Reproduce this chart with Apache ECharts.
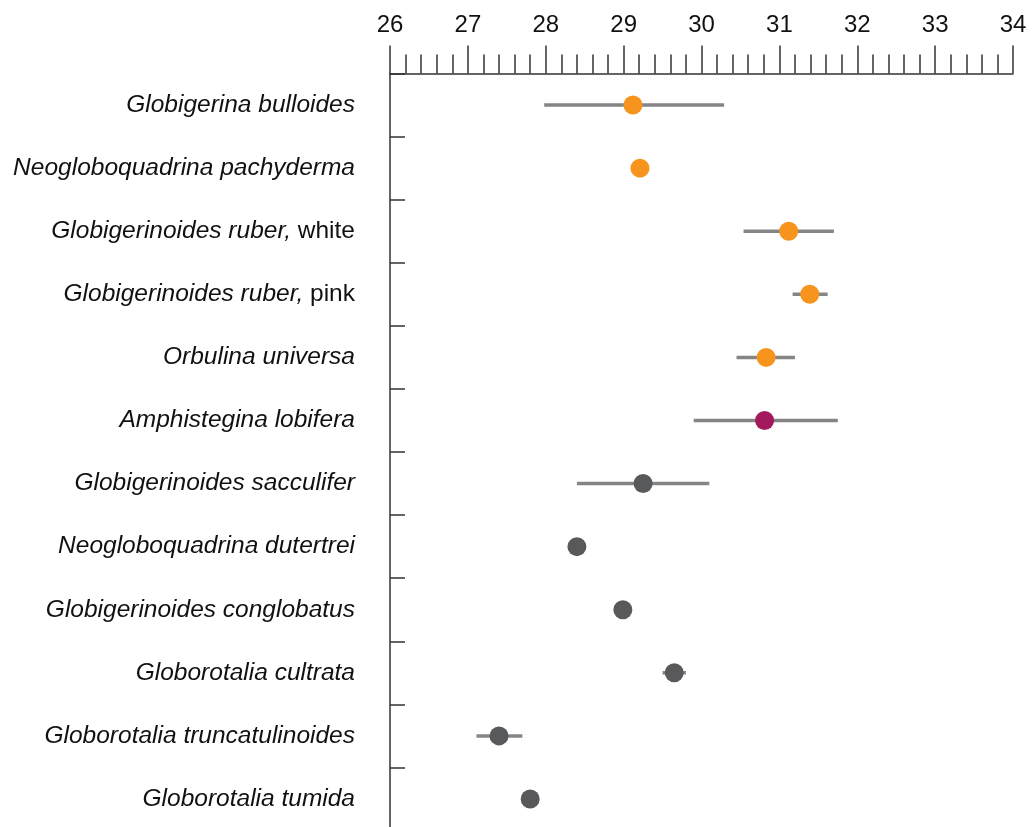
<!DOCTYPE html>
<html>
<head>
<meta charset="utf-8">
<script src="https://cdn.jsdelivr.net/npm/echarts@6/dist/echarts.min.js"></script>
<style>
  html, body { margin: 0; padding: 0; background: #fff; overflow: hidden; }
  /* a bit taller than the window: the last band runs past the bottom edge */
  #chart { width: 1032px; height: 840px; }
</style>
</head>
<body>
<div id="chart"></div>
<script>
// species names (italic part) and plain-text qualifier
const species = [
  "Globigerina bulloides",
  "Neogloboquadrina pachyderma",
  "Globigerinoides ruber,",
  "Globigerinoides ruber,",
  "Orbulina universa",
  "Amphistegina lobifera",
  "Globigerinoides sacculifer",
  "Neogloboquadrina dutertrei",
  "Globigerinoides conglobatus",
  "Globorotalia cultrata",
  "Globorotalia truncatulinoides",
  "Globorotalia tumida"
];
const qualifiers = ["", "", "white", "pink", "", "", "", "", "", "", "", ""];

// mean values and error range
const means = [29.12, 29.21, 31.12, 31.39, 30.83, 30.81, 29.25, 28.40, 28.99, 29.65, 27.40, 27.80];
const lows  = [27.98, null, 30.54, 31.17, 30.45, 29.90, 28.40, null, null, 29.50, 27.11, null];
const highs = [30.29, null, 31.70, 31.62, 31.20, 31.75, 30.10, null, null, 29.80, 27.70, null];
const groups = ["planktic", "planktic", "planktic", "planktic", "planktic", "benthic",
                "other", "other", "other", "other", "other", "other"];

const xTicks = [26, 27, 28, 29, 30, 31, 32, 33, 34];

const groupColors = { planktic: "#F7941D", benthic: "#A3195B", other: "#58595B" };
const font = "'Liberation Sans', Arial, sans-serif";

const categories = species.map((s, i) => s + "|" + qualifiers[i]);

const chart = echarts.init(document.getElementById("chart"));

chart.setOption({
  animation: false,
  grid: { left: 390, right: 19, top: 73.5, height: 757 },
  xAxis: {
    type: "value",
    position: "top",
    min: xTicks[0],
    max: xTicks[xTicks.length - 1],
    interval: 1,
    axisLine: { show: true, lineStyle: { color: "#333", width: 1.5 } },
    axisTick: { show: true, inside: false, length: 28, lineStyle: { color: "#333", width: 1.5 } },
    minorTick: { show: true, splitNumber: 5, length: 19, lineStyle: { color: "#333", width: 1.5 } },
    axisLabel: { margin: 36, fontSize: 24, color: "#111", fontFamily: font },
    splitLine: { show: false }
  },
  yAxis: {
    type: "category",
    inverse: true,
    data: categories,
    boundaryGap: true,
    axisLine: { show: true, lineStyle: { color: "#333", width: 1.5 } },
    axisTick: { show: true, inside: true, length: 15, lineStyle: { color: "#333", width: 1.5 } },
    axisLabel: {
      margin: 35,
      formatter: (v) => {
        const [name, q] = v.split("|");
        return "{i|" + name + "}" + (q ? "{n| " + q + "}" : "");
      },
      rich: {
        i: { fontSize: 24.5, fontStyle: "italic", color: "#111", fontFamily: font },
        n: { fontSize: 24.5, fontStyle: "normal", color: "#111", fontFamily: font }
      }
    },
    splitLine: { show: false }
  },
  series: [
    {
      type: "custom",
      name: "range",
      data: lows.map((lo, i) => [lo, highs[i], i]).filter(d => d[0] !== null),
      renderItem: (params, api) => {
        const a = api.coord([api.value(0), api.value(2)]);
        const b = api.coord([api.value(1), api.value(2)]);
        return {
          type: "line",
          shape: { x1: a[0], y1: a[1], x2: b[0], y2: b[1] },
          style: { stroke: "#858585", lineWidth: 3.5 }
        };
      },
      encode: { x: [0, 1], y: 2 },
      z: 2
    },
    {
      type: "scatter",
      name: "mean",
      symbolSize: 19,
      data: means.map((m, i) => ({
        value: [m, i],
        itemStyle: { color: groupColors[groups[i]], opacity: 1 }
      })),
      z: 3
    }
  ]
});
</script>
</body>
</html>
